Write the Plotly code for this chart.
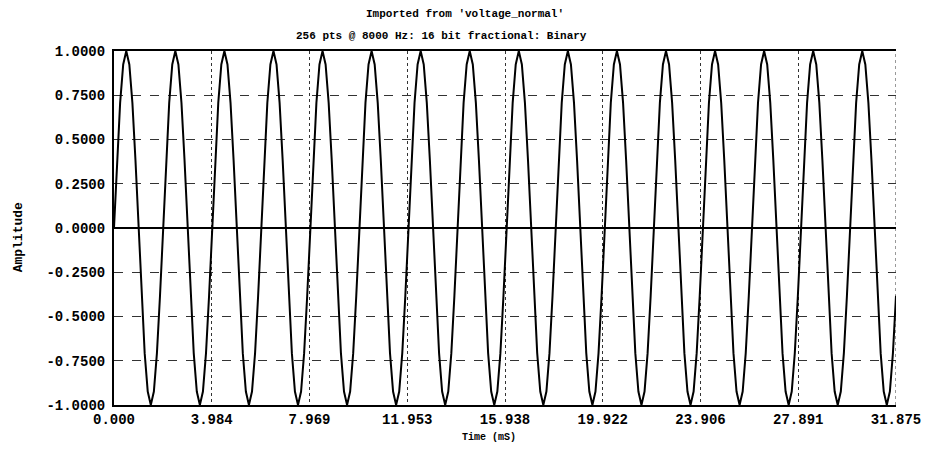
import plotly.graph_objects as go

SAMPLE_RATE_HZ = 8000

# 256 samples (16 samples per cycle, 16 cycles)
amplitude = [
    0.0, 0.3827, 0.7071, 0.9239, 1.0, 0.9239, 0.7071, 0.3827, 0.0, -0.3827, -0.7071, -0.9239, -1.0, -0.9239, -0.7071, -0.3827,
    0.0, 0.3827, 0.7071, 0.9239, 1.0, 0.9239, 0.7071, 0.3827, 0.0, -0.3827, -0.7071, -0.9239, -1.0, -0.9239, -0.7071, -0.3827,
    0.0, 0.3827, 0.7071, 0.9239, 1.0, 0.9239, 0.7071, 0.3827, 0.0, -0.3827, -0.7071, -0.9239, -1.0, -0.9239, -0.7071, -0.3827,
    0.0, 0.3827, 0.7071, 0.9239, 1.0, 0.9239, 0.7071, 0.3827, 0.0, -0.3827, -0.7071, -0.9239, -1.0, -0.9239, -0.7071, -0.3827,
    0.0, 0.3827, 0.7071, 0.9239, 1.0, 0.9239, 0.7071, 0.3827, 0.0, -0.3827, -0.7071, -0.9239, -1.0, -0.9239, -0.7071, -0.3827,
    0.0, 0.3827, 0.7071, 0.9239, 1.0, 0.9239, 0.7071, 0.3827, 0.0, -0.3827, -0.7071, -0.9239, -1.0, -0.9239, -0.7071, -0.3827,
    0.0, 0.3827, 0.7071, 0.9239, 1.0, 0.9239, 0.7071, 0.3827, 0.0, -0.3827, -0.7071, -0.9239, -1.0, -0.9239, -0.7071, -0.3827,
    0.0, 0.3827, 0.7071, 0.9239, 1.0, 0.9239, 0.7071, 0.3827, 0.0, -0.3827, -0.7071, -0.9239, -1.0, -0.9239, -0.7071, -0.3827,
    0.0, 0.3827, 0.7071, 0.9239, 1.0, 0.9239, 0.7071, 0.3827, 0.0, -0.3827, -0.7071, -0.9239, -1.0, -0.9239, -0.7071, -0.3827,
    0.0, 0.3827, 0.7071, 0.9239, 1.0, 0.9239, 0.7071, 0.3827, 0.0, -0.3827, -0.7071, -0.9239, -1.0, -0.9239, -0.7071, -0.3827,
    0.0, 0.3827, 0.7071, 0.9239, 1.0, 0.9239, 0.7071, 0.3827, 0.0, -0.3827, -0.7071, -0.9239, -1.0, -0.9239, -0.7071, -0.3827,
    0.0, 0.3827, 0.7071, 0.9239, 1.0, 0.9239, 0.7071, 0.3827, 0.0, -0.3827, -0.7071, -0.9239, -1.0, -0.9239, -0.7071, -0.3827,
    0.0, 0.3827, 0.7071, 0.9239, 1.0, 0.9239, 0.7071, 0.3827, 0.0, -0.3827, -0.7071, -0.9239, -1.0, -0.9239, -0.7071, -0.3827,
    0.0, 0.3827, 0.7071, 0.9239, 1.0, 0.9239, 0.7071, 0.3827, 0.0, -0.3827, -0.7071, -0.9239, -1.0, -0.9239, -0.7071, -0.3827,
    0.0, 0.3827, 0.7071, 0.9239, 1.0, 0.9239, 0.7071, 0.3827, 0.0, -0.3827, -0.7071, -0.9239, -1.0, -0.9239, -0.7071, -0.3827,
    0.0, 0.3827, 0.7071, 0.9239, 1.0, 0.9239, 0.7071, 0.3827, 0.0, -0.3827, -0.7071, -0.9239, -1.0, -0.9239, -0.7071, -0.3827,
]

# sample times in ms, from the sample rate stated in the header
time_ms = [i * 1000.0 / SAMPLE_RATE_HZ for i in range(len(amplitude))]

x_tick_vals = [0.0, 3.984375, 7.96875, 11.953125, 15.9375, 19.921875, 23.90625, 27.890625, 31.875]
x_tick_text = ["0.000", "3.984", "7.969", "11.953", "15.938", "19.922", "23.906", "27.891", "31.875"]
y_tick_vals = [1.0, 0.75, 0.5, 0.25, 0.0, -0.25, -0.5, -0.75, -1.0]
y_tick_text = ["1.0000", "0.7500", "0.5000", "0.2500", "0.0000", "-0.2500", "-0.5000", "-0.7500", "-1.0000"]

title_line1 = "Imported from 'voltage_normal'"
title_line2 = "256 pts @ 8000 Hz: 16 bit fractional: Binary"
x_label = "Time (mS)"
y_label = "Amplitude"

FONT = "Liberation Mono, Courier New, monospace"

fig = go.Figure()
fig.add_trace(go.Scatter(
    x=time_ms, y=amplitude, mode="lines",
    line=dict(color="#000000", width=2),
    hoverinfo="skip", showlegend=False,
))

fig.update_layout(
    width=933, height=454,
    margin=dict(l=114, r=26, t=51, b=49),
    paper_bgcolor="white", plot_bgcolor="white",
    font=dict(family=FONT, color="#000000"),
    xaxis=dict(
        range=[0, 31.875], tickvals=x_tick_vals, ticktext=x_tick_text,
        showgrid=True, gridcolor="#333333", gridwidth=1, griddash="dot",
        showline=True, linecolor="#000000", linewidth=2, mirror=True,
        ticks="", zeroline=False,
        tickfont=dict(family=FONT, size=14, color="#000000", weight="bold"),
    ),
    yaxis=dict(
        range=[-1, 1], tickvals=y_tick_vals, ticktext=y_tick_text,
        showgrid=True, gridcolor="#333333", gridwidth=1, griddash="dash",
        showline=True, linecolor="#000000", linewidth=2, mirror=False,
        ticks="", ticklabelstandoff=4,
        zeroline=True, zerolinecolor="#000000", zerolinewidth=2,
        tickfont=dict(family=FONT, size=14, color="#000000", weight="bold"),
    ),
    shapes=[
        # dotted right-hand frame edge, as in the reference
        dict(type="line", xref="x", yref="paper", x0=x_tick_vals[-1], x1=x_tick_vals[-1],
             y0=0, y1=1, line=dict(color="#333333", width=1, dash="dot"), layer="below"),
    ],
    annotations=[
        dict(text=title_line1, xref="paper", yref="paper", x=0.449, y=1.1045,
             xanchor="center", yanchor="middle", showarrow=False,
             font=dict(family=FONT, size=11, color="#000000", weight="bold")),
        dict(text=title_line2, xref="paper", yref="paper", x=0.419, y=1.0424,
             xanchor="center", yanchor="middle", showarrow=False,
             font=dict(family=FONT, size=11, color="#000000", weight="bold")),
        dict(text=x_label, xref="paper", yref="paper", x=0.480, y=-0.0904,
             xanchor="center", yanchor="middle", showarrow=False,
             font=dict(family=FONT, size=10, color="#000000", weight="bold")),
        dict(text=y_label, xref="paper", yref="paper", x=-0.121, y=0.4746,
             xanchor="center", yanchor="middle", showarrow=False, textangle=-90,
             font=dict(family=FONT, size=13, color="#000000", weight="bold")),
    ],
)

fig.write_html("out.html")
